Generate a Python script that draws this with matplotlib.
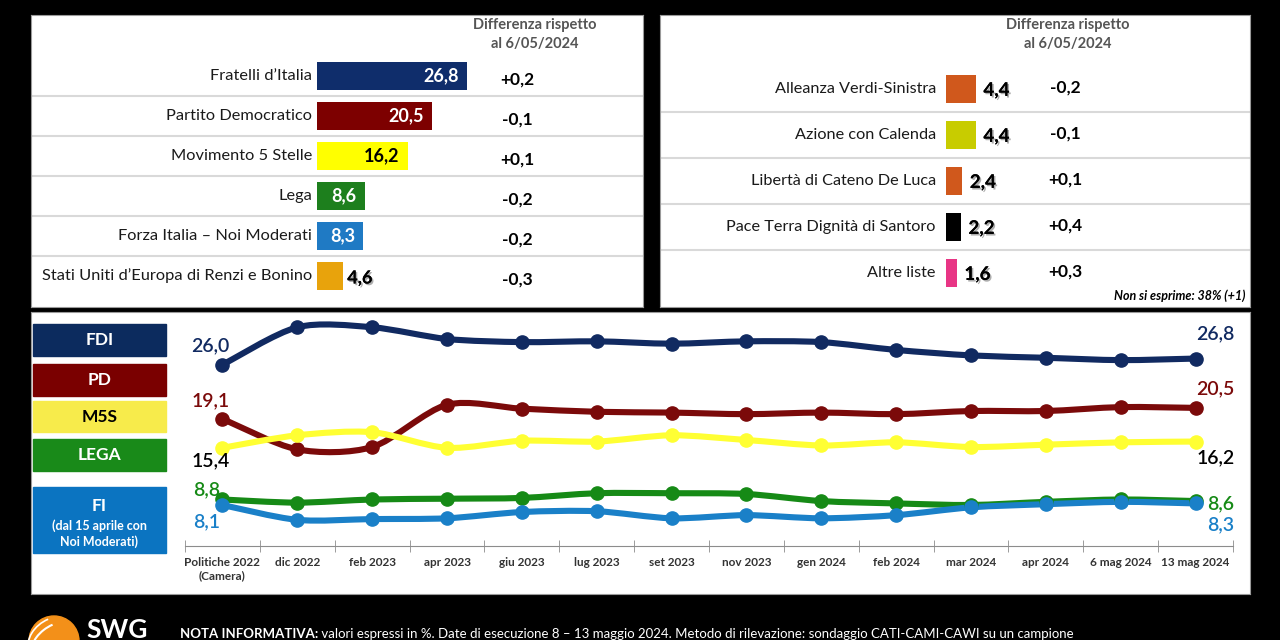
import matplotlib
matplotlib.use("Agg")
import matplotlib.pyplot as plt
import matplotlib.patheffects as pe
from matplotlib.patches import Rectangle, Circle, Arc, PathPatch
from matplotlib.path import Path
import numpy as np

plt.rcParams['font.family'] = ['Lato', 'DejaVu Sans']

# ---- data ----
main_parties = ["Fratelli d\u2019Italia", "Partito Democratico", "Movimento 5 Stelle",
                "Lega", "Forza Italia \u2013 Noi Moderati", "Stati Uniti d\u2019Europa di Renzi e Bonino"]
main_vals = [26.8, 20.5, 16.2, 8.6, 8.3, 4.6]
main_diff = ["+0,2", "-0,1", "+0,1", "-0,2", "-0,2", "-0,3"]
main_colors = ["#0f2d6b", "#7d0000", "#ffff00", "#1d7f1d", "#1f7ac4", "#e8a30c"]

minor_parties = ["Alleanza Verdi-Sinistra", "Azione con Calenda", "Libert\u00e0 di Cateno De Luca",
                 "Pace Terra Dignit\u00e0 di Santoro", "Altre liste"]
minor_vals = [4.4, 4.4, 2.4, 2.2, 1.6]
minor_diff = ["-0,2", "-0,1", "+0,1", "+0,4", "+0,3"]
minor_colors = ["#d0581c", "#c8cc00", "#d0581c", "#000000", "#e83585"]

dates = ["Politiche 2022\n(Camera)", "dic 2022", "feb 2023", "apr 2023", "giu 2023", "lug 2023",
         "set 2023", "nov 2023", "gen 2024", "feb 2024", "mar 2024", "apr 2024",
         "6 mag 2024", "13 mag 2024"]
fdi = [26.0, 30.8, 30.8, 29.3, 28.9, 29.0, 28.7, 29.0, 28.9, 27.9, 27.2, 26.9, 26.6, 26.8]
pd_ = [19.1, 15.2, 15.5, 20.9, 20.4, 20.0, 19.9, 19.7, 19.9, 19.7, 20.1, 20.1, 20.6, 20.5]
m5s = [15.4, 17.0, 17.4, 15.4, 16.3, 16.2, 17.0, 16.4, 15.7, 16.1, 15.5, 15.8, 16.1, 16.2]
lega = [8.8, 8.4, 8.8, 8.9, 9.0, 9.6, 9.6, 9.5, 8.6, 8.3, 8.1, 8.5, 8.8, 8.6]
fi = [8.1, 6.2, 6.3, 6.4, 7.2, 7.3, 6.4, 6.8, 6.4, 6.8, 7.8, 8.2, 8.5, 8.3]

W, H = 1280, 640
fig = plt.figure(figsize=(12.8, 6.4), dpi=100, facecolor="black")


def px_axes(x0, y0, x1, y1):
    return fig.add_axes([x0 / W, 1 - y1 / H, (x1 - x0) / W, (y1 - y0) / H])


def fmt(v):
    return f"{v:.1f}".replace(".", ",")


shadow = [pe.withSimplePatchShadow(offset=(1.2, -1.2), shadow_rgbFace="#777777", alpha=0.6), pe.Normal()]

# background + footer
bg = fig.add_axes([0, 0, 1, 1])
bg.set_xlim(0, W)
bg.set_ylim(H, 0)
bg.set_facecolor("black")
bg.axis("off")
bg.add_patch(Circle((54, 641), 25, color="#f39019", zorder=2))
bg.add_patch(Arc((54, 641), 50, 30, angle=-35, theta1=100, theta2=300, color="white", lw=1.5, zorder=3))
bg.add_patch(Arc((54, 641), 56, 44, angle=-35, theta1=110, theta2=290, color="white", lw=1.2, zorder=3))
bg.text(86, 638, "SWG", color="white", fontsize=19, fontweight="bold", va="baseline")
nota = bg.text(180, 634, "NOTA INFORMATIVA:", color="white", fontsize=9.5, fontweight="bold", va="center")
bg.annotate(" valori espressi in %. Date di esecuzione 8 \u2013 13 maggio 2024. Metodo di rilevazione: "
            "sondaggio CATI-CAMI-CAWI su un campione", xy=(1, 0.5), xycoords=nota,
            color="white", fontsize=9.5, va="center", ha="left")

# ---- top-left panel ----
axL = px_axes(31, 15, 643, 307)
sL = 5.6
axL.set_xlim((31 - 317) / sL, (643 - 317) / sL)
axL.set_ylim((307 - 76) / 40, (15 - 76) / 40)
axL.set_facecolor("white")
for sp in axL.spines.values():
    sp.set_color("#9a9a9a")
axL.set_xticks([])
axL.set_yticks([])
rows = np.arange(len(main_vals))
axL.barh(rows, main_vals, height=0.7, color=main_colors, zorder=2)
for i in range(len(main_vals) - 1):
    axL.axhline(i + 0.5, color="#d9d9d9", lw=1.5, zorder=1)
for i, (name, v, d) in enumerate(zip(main_parties, main_vals, main_diff)):
    axL.text(-0.9, i, name, ha="right", va="center", fontsize=11.8, color="#1a1a1a")
    if v > 6:
        tc = "black" if main_colors[i] == "#ffff00" else "white"
        axL.text(v - 1.5, i, fmt(v), ha="right", va="center", fontsize=13, fontweight="bold", color=tc, zorder=3)
    else:
        axL.text(v + 0.8, i + 0.05, fmt(v), ha="left", va="center", fontsize=13, fontweight="bold",
                 color="black", path_effects=shadow, zorder=3)
    axL.text(35.7, i + 0.08, d, ha="center", va="center", fontsize=12.5, fontweight="bold", color="black")
axL.text(38.9, -1.275, "Differenza rispetto", ha="center", va="center", fontsize=10.5, fontweight="bold", color="#555555")
axL.text(38.9, -0.8, "al 6/05/2024", ha="center", va="center", fontsize=10.5, fontweight="bold", color="#555555")

# ---- top-right panel ----
axR = px_axes(660, 15, 1250, 307)
sR = 6.8
axR.set_xlim((660 - 946) / sR, (1250 - 946) / sR)
axR.set_ylim((307 - 89) / 46, (15 - 89) / 46)
axR.set_facecolor("white")
for sp in axR.spines.values():
    sp.set_color("#9a9a9a")
axR.set_xticks([])
axR.set_yticks([])
rows = np.arange(len(minor_vals))
axR.barh(rows, minor_vals, height=0.62, color=minor_colors, zorder=2)
for i in range(len(minor_vals) - 1):
    axR.axhline(i + 0.5, color="#d9d9d9", lw=1.5, zorder=1)
for i, (name, v, d) in enumerate(zip(minor_parties, minor_vals, minor_diff)):
    axR.text(-1.5, i, name, ha="right", va="center", fontsize=11.7, color="#1a1a1a")
    axR.text(v + 1.1, i + 0.03, fmt(v), ha="left", va="center", fontsize=13.5, fontweight="bold",
             color="black", path_effects=shadow, zorder=3)
    axR.text(17.6, i - 0.03, d, ha="center", va="center", fontsize=12.5, fontweight="bold", color="black")
axR.text(17.9, (25 - 89) / 46, "Differenza rispetto", ha="center", va="center", fontsize=10.5, fontweight="bold", color="#555555")
axR.text(17.9, (44 - 89) / 46, "al 6/05/2024", ha="center", va="center", fontsize=10.5, fontweight="bold", color="#555555")
axR.text(44.0, 4.5, "Non si esprime: 38% (+1)", ha="right", va="center", fontsize=9, fontweight="bold",
         fontstyle="italic", color="black")

# ---- bottom panel ----
axB = px_axes(31, 312, 1250, 594)
axB.set_xlim(31, 1250)
axB.set_ylim(594, 312)
axB.set_facecolor("white")
for sp in axB.spines.values():
    sp.set_color("#9a9a9a")
axB.set_xticks([])
axB.set_yticks([])
legend_boxes = [("FDI", 324, 356, "#0c2b5e", "white"), ("PD", 364, 396, "#7a0000", "white"),
                ("M5S", 401, 432, "#f7eb4b", "black"), ("LEGA", 439, 471, "#198a19", "white"),
                ("FI", 487, 553, "#0b74c1", "white")]
for lab, y0, y1, c, tc in legend_boxes:
    axB.add_patch(Rectangle((33, y0), 133, y1 - y0, color=c))
    if lab == "FI":
        axB.text(99.5, 506, lab, ha="center", va="center", fontsize=12.5, fontweight="bold", color=tc)
        axB.text(99.5, 534, "(dal 15 aprile con\nNoi Moderati)", ha="center", va="center", fontsize=9,
                 fontweight="bold", color=tc, linespacing=1.3)
    else:
        axB.text(99.5, (y0 + y1) / 2, lab, ha="center", va="center", fontsize=12.5, fontweight="bold", color=tc)

axP = px_axes(185, 312, 1233, 546)
axP.set_xlim(-0.5, len(dates) - 0.5)
axP.set_ylim((568.4 - 546) / 7.83, (568.4 - 312) / 7.83)
axP.patch.set_alpha(0)
for k in ["top", "right", "left"]:
    axP.spines[k].set_visible(False)
axP.spines["bottom"].set_color("#8c8c8c")
axP.set_yticks([])
axP.set_xticks(range(len(dates)))
axP.set_xticklabels(dates, fontsize=8.5, fontweight="bold", color="#333333")
axP.tick_params(axis="x", which="major", length=0, pad=8)
axP.set_xticks(np.arange(-0.5, len(dates)), minor=True)
axP.tick_params(axis="x", which="minor", length=8, direction="inout", color="#8c8c8c")

x = np.arange(len(dates))


def smooth_path(xs, ys, k=7.0):
    pts = np.column_stack([xs, ys]).astype(float)
    n = len(pts)
    verts = [pts[0]]
    codes = [Path.MOVETO]
    for i in range(n - 1):
        p0 = pts[i - 1] if i > 0 else pts[i]
        p1 = pts[i]
        p2 = pts[i + 1]
        p3 = pts[i + 2] if i + 2 < n else pts[i + 1]
        c1 = p1 + (p2 - p0) / k
        c2 = p2 - (p3 - p1) / k
        verts += [c1, c2, p2]
        codes += [Path.CURVE4] * 3
    return Path(verts, codes)


series = [(fdi, "#112a61", (-12, 19), (20, 25), "#112a61"),
          (pd_, "#7b0a0a", (-12, 18), (20, 19), "#7b0a0a"),
          (m5s, "#ffff33", (-12, -13), (20, -16), "black"),
          (lega, "#168a16", (-16, 10), (25, -3), "#168a16"),
          (fi, "#1a80c8", (-16, -17), (25, -21), "#1a80c8")]
for vals, c, off0, off1, lc in series:
    axP.add_patch(PathPatch(smooth_path(x, vals), fill=False, edgecolor=c, lw=4.4,
                            capstyle="round", joinstyle="round", zorder=3))
    axP.plot(x, vals, "o", color=c, ms=9.5, zorder=4)
    axP.annotate(fmt(vals[0]), (x[0], vals[0]), xytext=off0, textcoords="offset pixels",
                 ha="center", va="center", fontsize=14, fontweight="semibold", color=lc, zorder=5)
    axP.annotate(fmt(vals[-1]), (x[-1], vals[-1]), xytext=off1, textcoords="offset pixels",
                 ha="center", va="center", fontsize=14, fontweight="semibold", color=lc, zorder=5)

fig.savefig("out.png", dpi=100, facecolor="black")
